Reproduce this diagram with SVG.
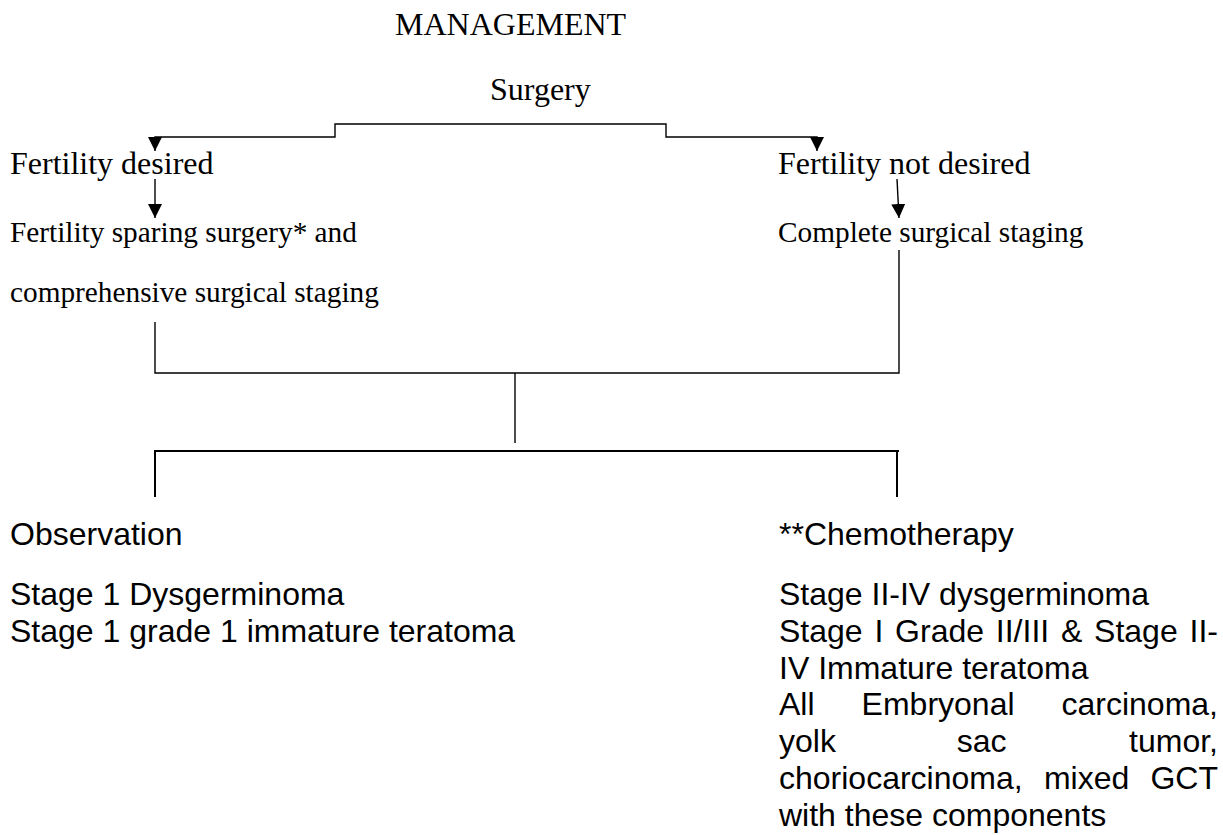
<svg xmlns="http://www.w3.org/2000/svg" width="1223" height="835" viewBox="0 0 1223 835">
<style>
.serif{font-family:"Liberation Serif","Times New Roman",serif;fill:#000}
.sans{font-family:"Liberation Sans",Arial,sans-serif;font-size:32px;fill:#000}
.big{font-size:32px}
.small{font-size:29.3px}
.conn{fill:none;stroke:#000;stroke-width:1.4}
.thick{stroke-width:2}
</style>
<defs>
<marker id="ah" viewBox="0 0 14 14" refX="14" refY="7" markerWidth="14" markerHeight="14" markerUnits="userSpaceOnUse" orient="auto">
<path d="M0,0 L14,7 L0,14 z" fill="#000"/>
</marker>
</defs>
<rect width="1223" height="835" fill="#fff"/>
<g id="connectors">
<path class="conn" d="M516,124 H335 V137 H155 V151" marker-end="url(#ah)"/>
<path class="conn" d="M516,124 H666 V137 H817 V151" marker-end="url(#ah)"/>
<path class="conn" d="M155,179 V218" marker-end="url(#ah)"/>
<path class="conn" d="M897,179 L899,218" marker-end="url(#ah)"/>
<path class="conn" d="M155,322 V373 H899 V250"/>
<path class="conn" d="M515,373 V443"/>
<path class="conn thick" d="M155,497 V451 H899"/>
<path class="conn thick" d="M897,451 V497"/>
</g>
<g id="title"><text class="serif big" x="395" y="35">MANAGEMENT</text></g>
<g id="surgery"><text class="serif big" x="490" y="100">Surgery</text></g>
<g id="fertility-desired"><text class="serif big" x="10" y="174">Fertility desired</text></g>
<g id="fertility-not-desired"><text class="serif big" x="778" y="174">Fertility not desired</text></g>
<g id="fertility-sparing">
<text class="serif small" x="10" y="242">Fertility sparing surgery* and</text>
<text class="serif small" x="10" y="302">comprehensive surgical staging</text>
</g>
<g id="complete-staging"><text class="serif small" x="778" y="242">Complete surgical staging</text></g>
<g id="observation">
<text class="sans" x="10" y="545">Observation</text>
<text class="sans" x="10" y="605">Stage 1 Dysgerminoma</text>
<text class="sans" x="10" y="642">Stage 1 grade 1 immature teratoma</text>
</g>
<g id="chemotherapy">
<text class="sans" x="779" y="545">**Chemotherapy</text>
<text class="sans" x="779" y="605">Stage II-IV dysgerminoma</text>
<text class="sans" x="779" y="642" word-spacing="2.9">Stage I Grade II/III &amp; Stage II-</text>
<text class="sans" x="779" y="678.6">IV Immature teratoma</text>
<text class="sans" y="715.4"><tspan x="779">All</tspan><tspan x="861.6">Embryonal</tspan><tspan x="1218" text-anchor="end">carcinoma,</tspan></text>
<text class="sans" y="752.2"><tspan x="779">yolk</tspan><tspan x="956.7">sac</tspan><tspan x="1218" text-anchor="end">tumor,</tspan></text>
<text class="sans" y="789"><tspan x="779">choriocarcinoma,</tspan><tspan x="1043.9">mixed</tspan><tspan x="1218" text-anchor="end">GCT</tspan></text>
<text class="sans" x="779" y="825.8">with these components</text>
</g>
</svg>
